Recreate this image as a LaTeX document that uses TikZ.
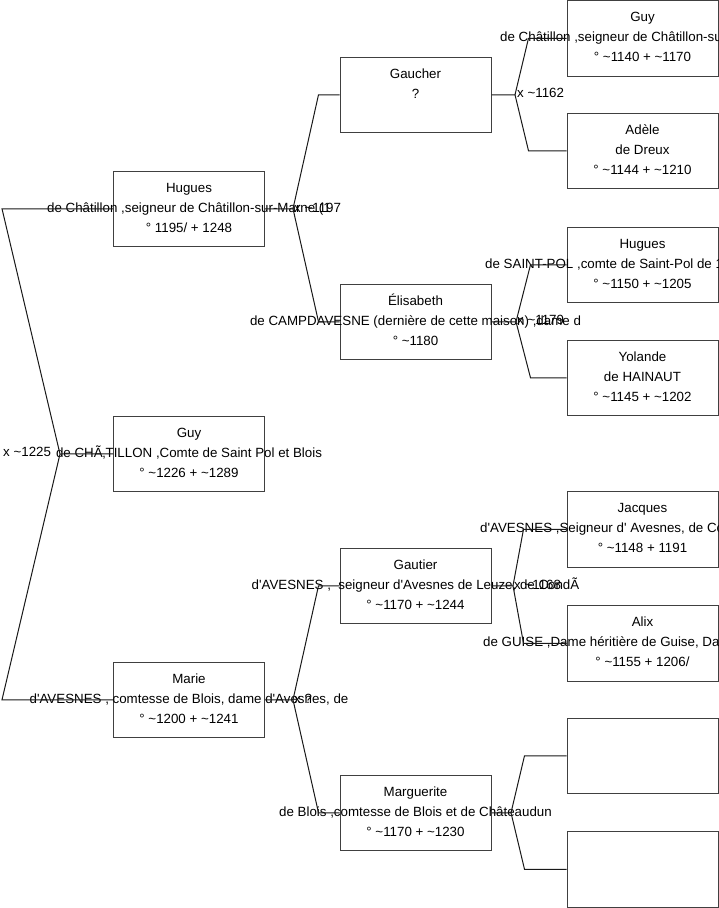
\documentclass[tikz,border=0pt]{standalone}
\usepackage{fontspec}
\setmainfont{Liberation Sans}
\newcommand\tld{\textasciitilde}
\newcommand\ap{\textquotesingle}
\tikzset{
  box/.style={draw=black!75, line width=1pt, minimum width=151pt, minimum height=75.5pt, inner sep=0pt, fill=white},
  txt/.style={font=\fontsize{13.33pt}{16pt}\selectfont, inner sep=0pt, anchor=base, text=black},
  txtw/.style={txt, anchor=base west},
  conn/.style={draw=black!90, line width=1pt},
}
% #1 name, #2 cx, #3 top, #4 line1, #5 line2, #6 line3
\newcommand\pbox[6]{%
  \node[box] (#1) at (#2,#3+37.75) {};
  \node[txt] (#1-a) at (#2,#3+21) {#4};
  \node[txt] (#1-b) at (#2,#3+41) {#5};
  \node[txt] (#1-c) at (#2,#3+61) {#6};
}
% variant with line 2 starting at a given x
\newcommand\pboxw[7]{%
  \node[box] (#1) at (#2,#3+37.75) {};
  \node[txt] (#1-a) at (#2,#3+21) {#4};
  \node[txtw] (#1-b) at (#7,#3+41) {#5};
  \node[txt] (#1-c) at (#2,#3+61) {#6};
}
\begin{document}
\begin{tikzpicture}[x=1pt,y=-1pt]
\useasboundingbox (0,0) rectangle (719,908);
\fill[white] (0,0) rectangle (719,908);

\coordinate (fL) at (60,454);
\coordinate (fLt) at (2,208.75);
\coordinate (fLb) at (2,699.75);
\coordinate (f1) at (293,208.75);
\coordinate (f2) at (293,699.75);
\coordinate (g1) at (515,94.75);
\coordinate (g2) at (516,321.75);
\coordinate (g3) at (513,585.75);
\coordinate (g4) at (511,812.75);

% Column 1
\pbox{hug1}{189}{171}{Hugues}{de Châtillon ,seigneur de Châtillon-sur-Marne (1}{° 1195/ + 1248}
\pbox{guy1}{189}{416}{Guy}{de CHÃ‚TILLON ,Comte de Saint Pol et Blois}{° \tld1226 + \tld1289}
\pbox{mar1}{189}{662}{Marie}{d\ap AVESNES , comtesse de Blois, dame d\ap Avesnes, de}{° \tld1200 + \tld1241}

% Column 2
\pbox{gau2}{415.5}{57}{Gaucher}{?}{}
\pbox{eli2}{415.5}{284}{Élisabeth}{de CAMPDAVESNE (dernière de cette maison) ,dame d}{° \tld1180}
\pbox{gtr2}{415.5}{548}{Gautier}{d\ap AVESNES ,\ \ seigneur d\ap Avesnes de Leuze, de CondÃ}{° \tld1170 + \tld1244}
\pbox{mgt2}{415.5}{775}{Marguerite}{de Blois ,comtesse de Blois et de Châteaudun}{° \tld1170 + \tld1230}

% Column 3
\pboxw{guy3}{642.5}{0.5}{Guy}{de Châtillon ,seigneur de Châtillon-sur}{° \tld1140 + \tld1170}{500}
\pbox{ade3}{642.5}{113}{Adèle}{de Dreux}{° \tld1144 + \tld1210}
\pboxw{hug3}{642.5}{227}{Hugues}{de SAINT-POL ,comte de Saint-Pol de 1}{° \tld1150 + \tld1205}{485}
\pbox{yol3}{642.5}{340}{Yolande}{de HAINAUT}{° \tld1145 + \tld1202}
\pboxw{jac3}{642.5}{491.5}{Jacques}{d\ap AVESNES ,Seigneur d\ap\ Avesnes, de Co}{° \tld1148 + 1191}{480}
\pboxw{ali3}{642.5}{605.5}{Alix}{de GUISE ,Dame héritière de Guise, Da}{° \tld1155 + 1206/}{483}
\node[box] (emp1) at (642.5,718+37.75) {};
\node[box] (emp2) at (642.5,832+37.25) {};

% left fork
\draw[conn] (hug1.west) -- (fLt) -- (fL) -- (fLb) -- (mar1.west);
\draw[conn] (fL) -- (guy1.west);
% Hugues parents
\draw[conn] (hug1.east) -- (f1) -- ([xshift=-21pt]gau2.west) -- (gau2.west);
\draw[conn] (f1) -- ([xshift=-21pt]eli2.west) -- (eli2.west);
% Marie parents
\draw[conn] (mar1.east) -- (f2) -- ([xshift=-21pt]gtr2.west) -- (gtr2.west);
\draw[conn] (f2) -- ([xshift=-21pt]mgt2.west) -- (mgt2.west);
% Gaucher parents
\draw[conn] (gau2.east) -- (g1) -- ([xshift=-38pt]guy3.west) -- (guy3.west);
\draw[conn] (g1) -- ([xshift=-38pt]ade3.west) -- (ade3.west);
% Elisabeth parents
\draw[conn] (eli2.east) -- (g2) -- ([xshift=-36pt]hug3.west) -- (hug3.west);
\draw[conn] (g2) -- ([xshift=-36pt]yol3.west) -- (yol3.west);
% Gautier parents
\draw[conn] (gtr2.east) -- (g3) -- ([xshift=-43pt]jac3.west) -- (jac3.west);
\draw[conn] (g3) -- ([xshift=-43pt]ali3.west) -- (ali3.west);
% Marguerite parents
\draw[conn] (mgt2.east) -- (g4) -- ([xshift=-42pt]emp1.west) -- (emp1.west);
\draw[conn] (g4) -- ([xshift=-42pt]emp2.west) -- (emp2.west);

% marriage labels
\node[txtw] (mL) at (3,456.5) {x \tld1225};
\node[txtw] (m1) at (294,212) {x \tld1197};
\node[txtw] (m2) at (294,703) {x ?};
\node[txtw] (m3) at (517,97.5) {x \tld1162};
\node[txtw] (m4) at (517,324.5) {x \tld1179};
\node[txtw] (m5) at (514,589) {x \tld1168};
\end{tikzpicture}
\end{document}
